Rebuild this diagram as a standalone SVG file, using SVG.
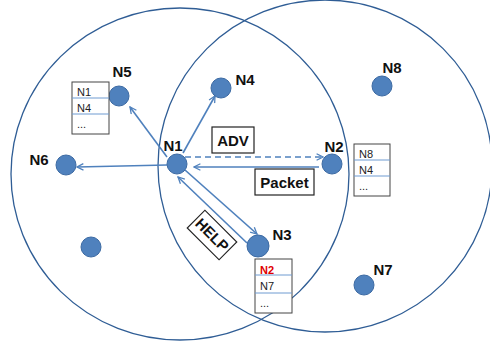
<svg xmlns="http://www.w3.org/2000/svg" width="490" height="347" viewBox="0 0 490 347">
<defs>
<style>
.range{fill:none;stroke:#2f5d95;stroke-width:1.3}
.node{fill:#4f81bd;stroke:#3c6aa3;stroke-width:1}
.lbl{font-family:"Liberation Sans",Arial,sans-serif;font-weight:bold;font-size:15px;fill:#111}
.tbl{fill:#fff;stroke:#444;stroke-width:1}
.row{stroke:#6f9bd1;stroke-width:1}
.tt{font-family:"Liberation Sans",Arial,sans-serif;font-size:11px;fill:#222}
.box{fill:#fff;stroke:#222;stroke-width:1.2}
.arr{fill:none;stroke:#4f81bd;stroke-width:1.6;marker-end:url(#ah)}
</style>
<marker id="ah" viewBox="0 0 10 10" refX="9" refY="5" markerWidth="5" markerHeight="5" orient="auto" markerUnits="strokeWidth">
<path d="M1,1 L9,5 L1,9" fill="none" stroke="#4f81bd" stroke-width="1.6"/>
</marker>
</defs>
<rect width="490" height="347" fill="#fff"/>
<ellipse class="range" cx="180" cy="174" rx="169" ry="166"/>
<ellipse class="range" cx="325" cy="166" rx="167" ry="166"/>
<g id="connectors">
<line class="arr" x1="167" y1="157" x2="130" y2="107"/>
<line class="arr" x1="183" y1="153" x2="215" y2="96"/>
<line class="arr" x1="167" y1="165" x2="77" y2="167"/>
<line class="arr" x1="185" y1="157" x2="323" y2="157" stroke-dasharray="6,4"/>
<line class="arr" x1="319" y1="167" x2="194" y2="167"/>
<line class="arr" x1="185" y1="170" x2="257" y2="234"/>
<line class="arr" x1="247" y1="243" x2="178" y2="177"/>
</g>
<g id="adv"><rect class="box" x="212" y="127" width="42" height="26"/><text class="lbl" x="233" y="146" text-anchor="middle">ADV</text></g>
<g id="packet"><rect class="box" x="255" y="169" width="59" height="26"/><text class="lbl" x="284.5" y="188" text-anchor="middle">Packet</text></g>
<g id="help" transform="translate(212,235) rotate(45)"><rect class="box" x="-22.5" y="-12.5" width="45" height="25"/><text class="lbl" x="0" y="5" text-anchor="middle">HELP</text></g>
<g id="N1"><circle class="node" cx="177" cy="164" r="10"/><text class="lbl" x="173" y="151" text-anchor="middle">N1</text></g>
<g id="N2"><circle class="node" cx="332" cy="164" r="10"/><text class="lbl" x="334" y="152" text-anchor="middle">N2</text>
<rect class="tbl" x="354" y="144" width="36" height="52"/><line class="row" x1="354" y1="160" x2="390" y2="160"/><line class="row" x1="354" y1="176" x2="390" y2="176"/>
<text class="tt" x="359" y="158">N8</text><text class="tt" x="359" y="174">N4</text><text class="tt" x="359" y="190" font-size="8">...</text></g>
<g id="N3"><circle class="node" cx="258" cy="246" r="11"/><text class="lbl" x="282" y="240" text-anchor="middle">N3</text>
<rect class="tbl" x="255" y="259" width="37" height="54"/><line class="row" x1="255" y1="275" x2="292" y2="275"/><line class="row" x1="255" y1="293" x2="292" y2="293"/>
<text class="tt" x="260" y="274" fill="#e00000" font-weight="bold" font-size="12" style="fill:#e00000">N2</text><text class="tt" x="260" y="290">N7</text><text class="tt" x="260" y="307" font-size="8">...</text></g>
<g id="N4"><circle class="node" cx="221" cy="88" r="10"/><text class="lbl" x="245" y="85" text-anchor="middle">N4</text></g>
<g id="N5"><circle class="node" cx="119" cy="96" r="10"/><text class="lbl" x="122" y="77" text-anchor="middle">N5</text>
<rect class="tbl" x="72" y="82" width="37" height="52"/><line class="row" x1="72" y1="98" x2="109" y2="98"/><line class="row" x1="72" y1="114" x2="109" y2="114"/>
<text class="tt" x="77" y="96">N1</text><text class="tt" x="77" y="112">N4</text><text class="tt" x="77" y="128" font-size="8">...</text></g>
<g id="N6"><circle class="node" cx="66" cy="165" r="10"/><text class="lbl" x="39" y="165" text-anchor="middle">N6</text></g>
<g id="N7"><circle class="node" cx="364" cy="285" r="10"/><text class="lbl" x="383" y="275" text-anchor="middle">N7</text></g>
<g id="N8"><circle class="node" cx="382" cy="86" r="10"/><text class="lbl" x="392" y="73" text-anchor="middle">N8</text></g>
<g id="N9"><circle class="node" cx="91" cy="247" r="10"/></g>
</svg>
